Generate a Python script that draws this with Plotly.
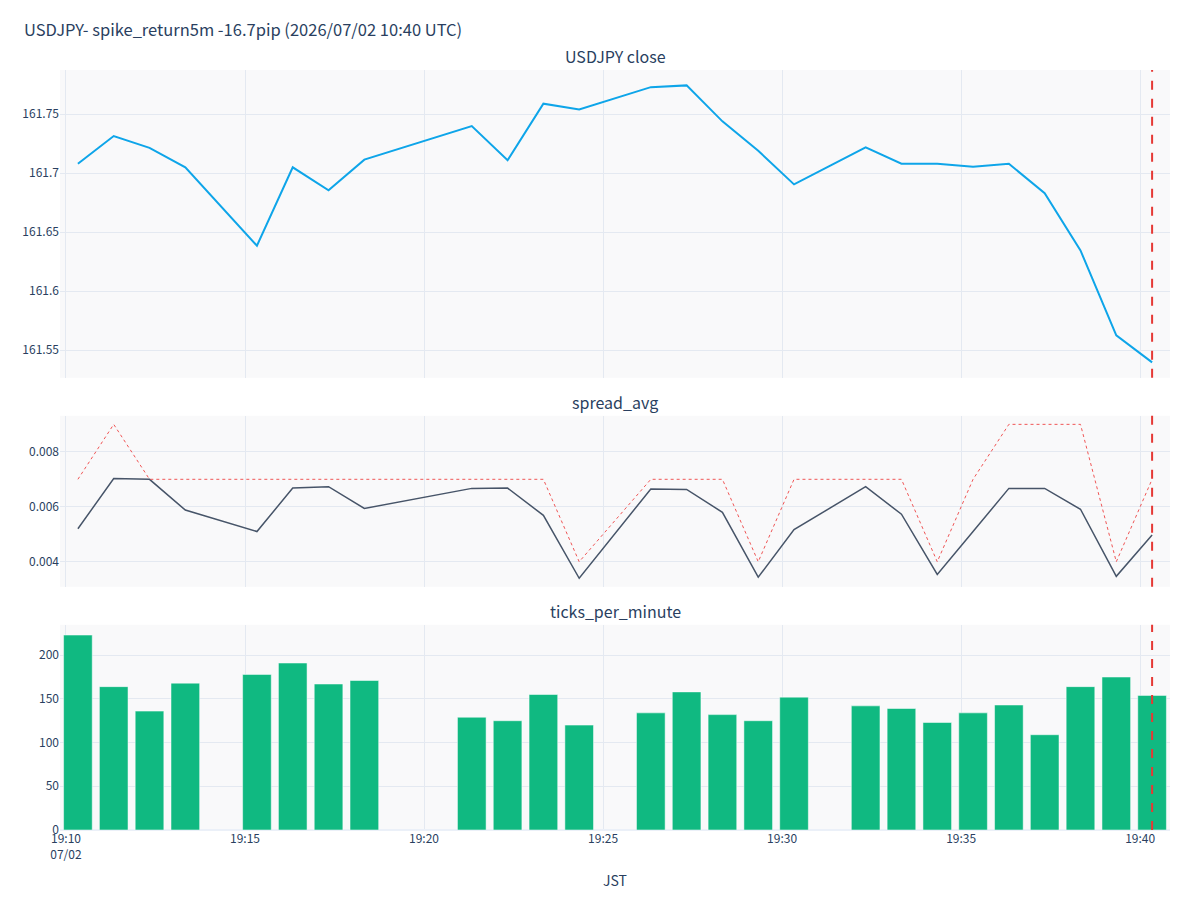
import plotly.graph_objects as go
from plotly.subplots import make_subplots

# ---- data (JST timestamps, one per minute bucket; some minutes missing) ----
times = [
    "2026-07-02 19:10:20", "2026-07-02 19:11:20", "2026-07-02 19:12:20", "2026-07-02 19:13:20",
    "2026-07-02 19:15:20", "2026-07-02 19:16:20", "2026-07-02 19:17:20", "2026-07-02 19:18:20",
    "2026-07-02 19:21:20", "2026-07-02 19:22:20", "2026-07-02 19:23:20", "2026-07-02 19:24:20",
    "2026-07-02 19:26:20", "2026-07-02 19:27:20", "2026-07-02 19:28:20", "2026-07-02 19:29:20",
    "2026-07-02 19:30:20", "2026-07-02 19:32:20", "2026-07-02 19:33:20", "2026-07-02 19:34:20",
    "2026-07-02 19:35:20", "2026-07-02 19:36:20", "2026-07-02 19:37:20", "2026-07-02 19:38:20",
    "2026-07-02 19:39:20", "2026-07-02 19:40:20",
]

close = [
    161.708, 161.7315, 161.7215, 161.705,
    161.6385, 161.705, 161.6855, 161.7115,
    161.740, 161.711, 161.759, 161.754,
    161.773, 161.7745, 161.744, 161.719,
    161.6905, 161.722, 161.708, 161.708,
    161.7055, 161.708, 161.683, 161.6345,
    161.5625, 161.5395,
]

spread_avg = [
    0.00520, 0.00703, 0.00700, 0.00588,
    0.00510, 0.00668, 0.00673, 0.00594,
    0.00667, 0.00668, 0.00569, 0.00340,
    0.00665, 0.00663, 0.00580, 0.00344,
    0.00517, 0.00673, 0.00573, 0.00354,
    0.00510, 0.00667, 0.00667, 0.00591,
    0.00347, 0.00497,
]

spread_max = [
    0.007, 0.009, 0.007, 0.007,
    0.007, 0.007, 0.007, 0.007,
    0.007, 0.007, 0.007, 0.004,
    0.007, 0.007, 0.007, 0.004,
    0.007, 0.007, 0.007, 0.004,
    0.007, 0.009, 0.009, 0.009,
    0.004, 0.007,
]

ticks_per_minute = [
    223, 164, 136, 168,
    178, 191, 167, 171,
    129, 125, 155, 120,
    134, 158, 132, 125,
    152, 142, 139, 123,
    134, 143, 109, 164,
    175, 154,
]

event_time = "2026-07-02 19:40:20"
title_text = "USDJPY- spike_return5m -16.7pip (2026/07/02 10:40 UTC)"
subplot_titles = ["USDJPY close", "spread_avg", "ticks_per_minute"]

FONT = "Noto Sans CJK JP, Noto Sans, sans-serif"

fig = make_subplots(
    rows=3, cols=1, shared_xaxes=True,
    row_heights=[0.45, 0.25, 0.30], vertical_spacing=0.05,
    subplot_titles=subplot_titles,
)

fig.add_trace(go.Scatter(x=times, y=close, mode="lines",
                         line=dict(color="#0ea5e9", width=2), name="close"),
              row=1, col=1)
fig.add_trace(go.Scatter(x=times, y=spread_avg, mode="lines",
                         line=dict(color="#475569", width=1.5), name="spread_avg"),
              row=2, col=1)
fig.add_trace(go.Scatter(x=times, y=spread_max, mode="lines",
                         line=dict(color="#ef4444", width=1, dash="dot"), opacity=0.9,
                         name="spread_max"),
              row=2, col=1)
fig.add_trace(go.Bar(x=times, y=ticks_per_minute, marker_color="#10b981",
                     name="ticks_per_minute"),
              row=3, col=1)

fig.add_vline(x=event_time, row="all", col=1,
              line=dict(color="#e53935", width=2, dash="dash"))

fig.update_layout(
    template="plotly_white",
    width=1200, height=900,
    margin=dict(l=60, r=30, t=70, b=70),
    plot_bgcolor="#f9f9fa",
    showlegend=False,
    font=dict(family=FONT, size=12, color="#2a3f5f"),
    title=dict(text=title_text, x=0.02, xanchor="left", y=0.966, yanchor="middle",
               font=dict(family=FONT, size=16.5)),
)
for ann in fig.layout.annotations:
    ann.font = dict(family=FONT, size=16, color="#2a3f5f")

fig.update_xaxes(tickformat="%H:%M\n%m/%d", showgrid=True, gridcolor="#e4e9f1")
fig.update_yaxes(gridcolor="#e4e9f1")
fig.update_xaxes(title_text="JST", row=3, col=1)

fig.write_html("out.html")
